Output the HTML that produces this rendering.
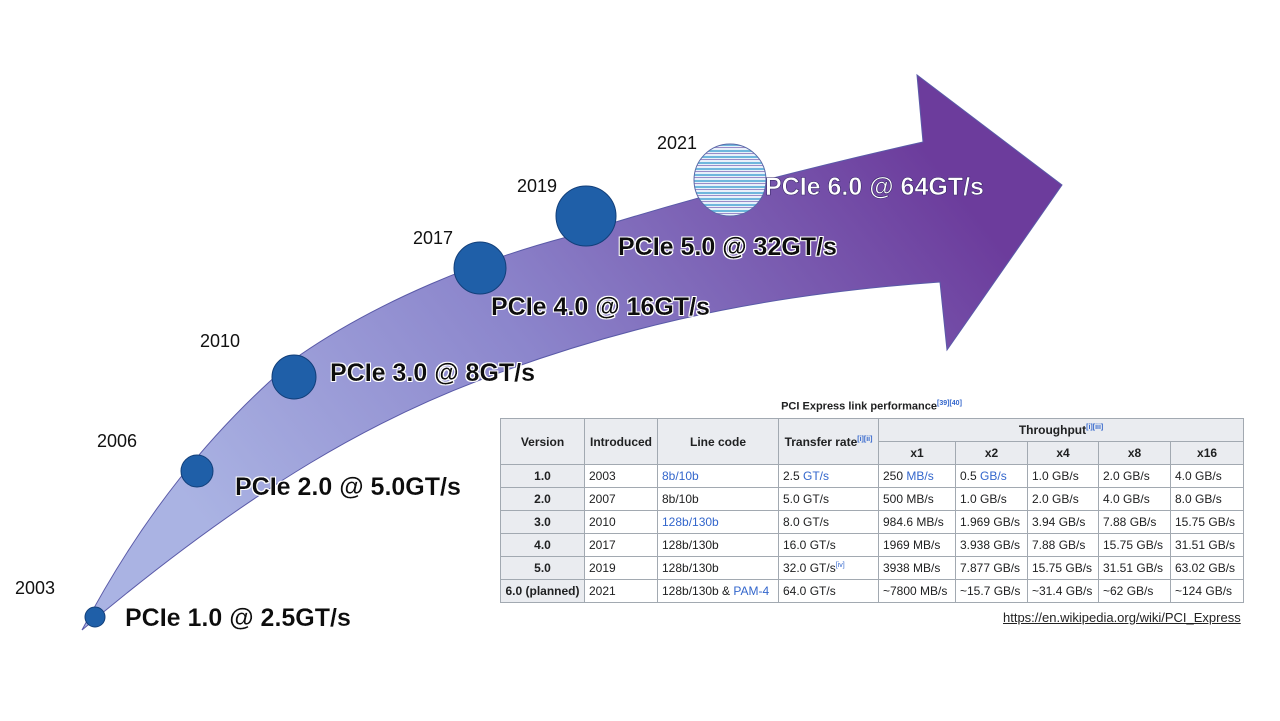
<!DOCTYPE html>
<html><head><meta charset="utf-8"><style>
html,body{margin:0;padding:0;background:#fff;}
body{width:1280px;height:721px;position:relative;overflow:hidden;font-family:"Liberation Sans",Arial,sans-serif;}
svg{position:absolute;left:0;top:0;}
.tbl{position:absolute;left:500px;top:418px;width:743px;table-layout:fixed;border-collapse:collapse;font-size:12px;color:#202122;}
.tbl td,.tbl th{border:1px solid #a2a9b1;padding:0 4px;height:22px;white-space:nowrap;overflow:hidden;}
.tbl th{background:#eaecf0;font-weight:bold;text-align:center;}
.tbl td.h{background:#eaecf0;font-weight:bold;text-align:center;}
.tbl a{color:#36c;text-decoration:none;}
sup{font-size:7px;color:#36c;}
.title{position:absolute;left:500px;width:743px;top:400px;text-align:center;font-size:11px;font-weight:bold;color:#202122;}
.link{position:absolute;left:1003px;top:610px;font-size:13px;color:#222;text-decoration:underline;}
</style></head><body>
<svg width="1280" height="721" viewBox="0 0 1280 721">
<defs>
<linearGradient id="g" gradientUnits="userSpaceOnUse" x1="250" y1="580" x2="880" y2="90">
<stop offset="0" stop-color="#aab3e3"/>
<stop offset="0.45" stop-color="#8c86cc"/>
<stop offset="1" stop-color="#6c3c9c"/>
</linearGradient>
<pattern id="st" patternUnits="userSpaceOnUse" width="10" height="6">
<rect width="10" height="6" fill="#e8f0fa"/>
<rect y="0" width="10" height="2" fill="#6fb7dd"/>
<rect y="3" width="10" height="1" fill="#9a8cc8"/>
</pattern>
<filter id="glow"><feMorphology operator="dilate" radius="1.2" in="SourceAlpha" result="d"/><feFlood flood-color="#fff"/><feComposite in2="d" operator="in" result="w"/><feMerge><feMergeNode in="w"/><feMergeNode in="SourceGraphic"/></feMerge></filter>
</defs>
<path d="M82,630 C140,520 210,430 300,355 C380,300 480,260 567,237 C700,195 820,165 923,142 L917,75 L1062,185 L947,350 L940,282 C800,292 650,315 480,380 C380,418 260,480 82,630 Z" fill="url(#g)" stroke="#5a5aa8" stroke-width="1"/>
<g fill="#1f5fa8" stroke="#123f7a" stroke-width="1">
<circle cx="95" cy="617" r="10"/>
<circle cx="197" cy="471" r="16"/>
<circle cx="294" cy="377" r="22"/>
<circle cx="480" cy="268" r="26"/>
<circle cx="586" cy="216" r="30"/>
</g>
<circle cx="730" cy="180" r="36" fill="url(#st)" stroke="#5a6aa8" stroke-width="1"/>
<g font-size="18" fill="#111">
<text x="15" y="594">2003</text>
<text x="97" y="447">2006</text>
<text x="200" y="347">2010</text>
<text x="413" y="244">2017</text>
<text x="517" y="192">2019</text>
<text x="657" y="149">2021</text>
</g>
<g font-size="25" font-weight="bold" fill="#111" filter="url(#glow)">
<text x="125" y="626">PCIe 1.0 @ 2.5GT/s</text>
<text x="235" y="495">PCIe 2.0 @ 5.0GT/s</text>
<text x="330" y="381">PCIe 3.0 @ 8GT/s</text>
<text x="491" y="315">PCIe 4.0 @ 16GT/s</text>
<text x="618" y="255">PCIe 5.0 @ 32GT/s</text>
</g>
<text x="765" y="195" font-size="25" font-weight="bold" fill="#fff" stroke="#3a2a6a" stroke-width="0.6">PCIe 6.0 @ 64GT/s</text>
</svg>
<div class="title">PCI Express link performance<sup>[39][40]</sup></div>
<table class="tbl">
<colgroup><col style="width:84px"><col style="width:73px"><col style="width:121px"><col style="width:100px"><col style="width:77px"><col style="width:72px"><col style="width:71px"><col style="width:72px"><col style="width:73px"></colgroup>
<tr><th rowspan="2">Version</th><th rowspan="2">Introduced</th><th rowspan="2">Line code</th><th rowspan="2">Transfer rate<sup>[i][ii]</sup></th><th colspan="5">Throughput<sup>[i][iii]</sup></th></tr>
<tr><th>x1</th><th>x2</th><th>x4</th><th>x8</th><th>x16</th></tr>
<tr><td class="h">1.0</td><td>2003</td><td><a>8b/10b</a></td><td>2.5 <a>GT/s</a></td><td>250 <a>MB/s</a></td><td>0.5 <a>GB/s</a></td><td>1.0 GB/s</td><td>2.0 GB/s</td><td>4.0 GB/s</td></tr>
<tr><td class="h">2.0</td><td>2007</td><td>8b/10b</td><td>5.0 GT/s</td><td>500 MB/s</td><td>1.0 GB/s</td><td>2.0 GB/s</td><td>4.0 GB/s</td><td>8.0 GB/s</td></tr>
<tr><td class="h">3.0</td><td>2010</td><td><a>128b/130b</a></td><td>8.0 GT/s</td><td>984.6 MB/s</td><td>1.969 GB/s</td><td>3.94 GB/s</td><td>7.88 GB/s</td><td>15.75 GB/s</td></tr>
<tr><td class="h">4.0</td><td>2017</td><td>128b/130b</td><td>16.0 GT/s</td><td>1969 MB/s</td><td>3.938 GB/s</td><td>7.88 GB/s</td><td>15.75 GB/s</td><td>31.51 GB/s</td></tr>
<tr><td class="h">5.0</td><td>2019</td><td>128b/130b</td><td>32.0 GT/s<sup>[iv]</sup></td><td>3938 MB/s</td><td>7.877 GB/s</td><td>15.75 GB/s</td><td>31.51 GB/s</td><td>63.02 GB/s</td></tr>
<tr><td class="h">6.0 (planned)</td><td>2021</td><td>128b/130b &amp; <a>PAM-4</a></td><td>64.0 GT/s</td><td>~7800 MB/s</td><td>~15.7 GB/s</td><td>~31.4 GB/s</td><td>~62 GB/s</td><td>~124 GB/s</td></tr>
</table>
<div class="link">https://en.wikipedia.org/wiki/PCI_Express</div>
</body></html>
